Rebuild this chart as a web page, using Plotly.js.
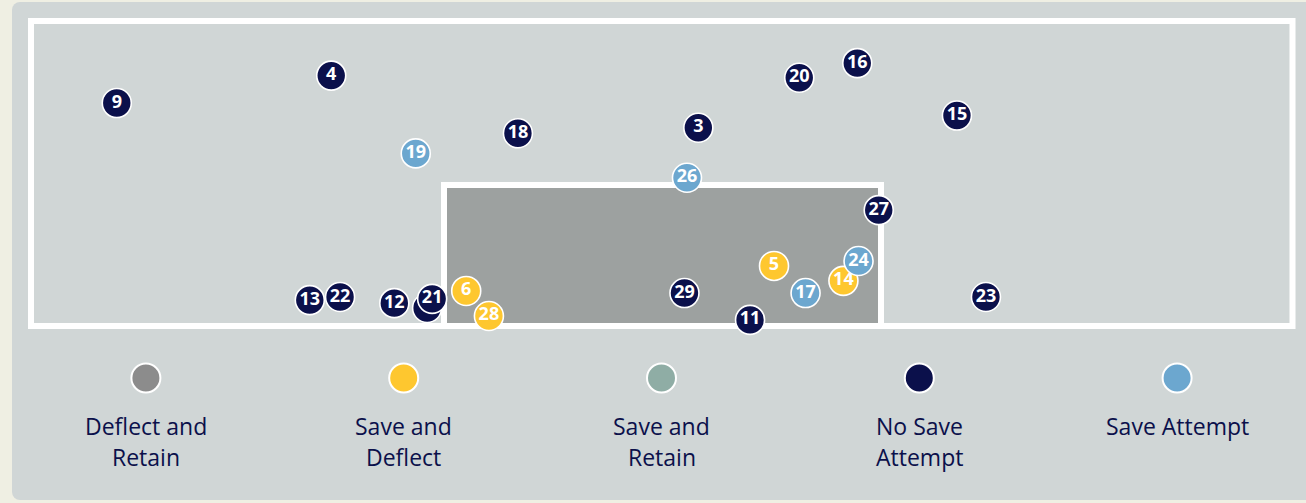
<!DOCTYPE html>
<html>
<head>
<meta charset="utf-8">
<script src="https://cdn.plot.ly/plotly-3.0.1.min.js"></script>
<style>
  html, body { margin: 0; padding: 0; background: #efefe3; overflow: hidden; }
  #card { position: absolute; left: 12px; top: 2px; width: 1310px; height: 498px;
          background: #d0d6d6; border-radius: 8px; }
  #shot_map { position: absolute; left: 0; top: 0; width: 1306px; height: 503px; }
</style>
</head>
<body>
<div id="card"></div>
<div id="shot_map"></div>
<script>
// shot positions in goal-frame units (0-100 across, 0 = goal line, 100 = top of frame)
const shotLabel   = ['9', '4', '18', '3', '20', '16', '15', '27', '29', '11', '23', '13', '22', '12', '', '21',
                     '5', '14', '6', '28',
                     '19', '26', '24', '17'];
const shotX       = [6.8, 23.8, 38.6, 52.9, 60.9, 65.5, 73.4, 67.2, 51.8, 57.0, 75.7, 22.1, 24.5, 28.8, 31.4, 31.8,
                     58.9, 64.4, 34.5, 36.3,
                     30.5, 52.0, 65.6, 61.4];
const shotY       = [73.1, 82.1, 63.2, 65.0, 81.4, 86.2, 69.0, 38.0, 10.8, 2.0, 9.5, 8.5, 9.5, 7.5, 5.9, 8.9,
                     19.7, 14.8, 11.5, 3.3,
                     56.6, 48.6, 21.3, 10.8];
const shotOutcome = ['No Save Attempt', 'No Save Attempt', 'No Save Attempt', 'No Save Attempt', 'No Save Attempt',
                     'No Save Attempt', 'No Save Attempt', 'No Save Attempt', 'No Save Attempt', 'No Save Attempt',
                     'No Save Attempt', 'No Save Attempt', 'No Save Attempt', 'No Save Attempt', 'No Save Attempt',
                     'No Save Attempt',
                     'Save and Deflect', 'Save and Deflect', 'Save and Deflect', 'Save and Deflect',
                     'Save Attempt', 'Save Attempt', 'Save Attempt', 'Save Attempt'];

// legend categories
const outcomeNames  = ['Deflect and Retain', 'Save and Deflect', 'Save and Retain', 'No Save Attempt', 'Save Attempt'];
const outcomeColors = ['#8c8c8c', '#fec72f', '#8fada5', '#0b104b', '#6ca7cf'];
const legendLine1   = ['Deflect and', 'Save and', 'Save and', 'No Save', 'Save Attempt'];
const legendLine2   = ['Retain', 'Deflect', 'Retain', 'Attempt', ''];
const legendY       = [0, 0, 0, 0, 0];

const navy = '#0b104b';
const drawOrder = ['No Save Attempt', 'Save and Deflect', 'Save Attempt'];

let data = drawOrder.map(function(outcome) {
  let idx = shotOutcome.map((o, i) => o == outcome ? i : -1).filter(i => i >= 0);
  return {
    x: idx.map(i => shotX[i]),
    y: idx.map(i => shotY[i]),
    text: idx.map(i => shotLabel[i]),
    type: 'scatter',
    mode: 'markers+text',
    name: outcome,
    textposition: 'middle center',
    textfont: {family: 'Open Sans', size: 18, color: '#ffffff', weight: 'bold'},
    marker: {size: 29, color: outcomeColors[outcomeNames.indexOf(outcome)],
             line: {color: '#ffffff', width: 1.6}},
    hoverinfo: 'none'
  };
});

// legend circles on their own category axis
data.push({
  x: outcomeNames,
  y: legendY,
  xaxis: 'x2',
  yaxis: 'y2',
  type: 'scatter',
  mode: 'markers',
  marker: {size: 29, color: outcomeColors, line: {color: '#ffffff', width: 2}},
  hoverinfo: 'none'
});

let annotations = [];
outcomeNames.forEach(function(name, i) {
  [legendLine1[i], legendLine2[i]].forEach(function(line, j) {
    if (!line) return;
    annotations.push({
      x: name, y: legendY[i], xref: 'x2', yref: 'y2',
      text: line, showarrow: false,
      yanchor: 'middle', yshift: -48 - j * 31,
      font: {family: 'Open Sans', size: 23, color: navy}
    });
  });
});

let layout = {
  width: 1306,
  height: 503,
  margin: {l: 0, r: 0, t: 0, b: 0},
  paper_bgcolor: 'rgba(0,0,0,0)',
  plot_bgcolor: 'rgba(0,0,0,0)',
  showlegend: false,
  xaxis: {range: [-2.457, 101.07], visible: false, fixedrange: true},
  yaxis: {range: [-58.03, 106.89], visible: false, fixedrange: true},
  xaxis2: {type: 'category', categoryarray: outcomeNames, range: [-0.5, 4.5],
           domain: [17 / 1306, 1], anchor: 'y2', visible: false, fixedrange: true},
  yaxis2: {range: [-125, 378], domain: [0, 1], anchor: 'x2', overlaying: 'y',
           visible: false, fixedrange: true},
  shapes: [
    // goal box
    {type: 'rect', xref: 'x', yref: 'y', x0: 32.74, x1: 67.38, y0: 0, y1: 46.2,
     fillcolor: '#9da1a0', line: {color: '#ffffff', width: 6}, layer: 'below'},
    // outer frame
    {type: 'rect', xref: 'x', yref: 'y', x0: 0, x1: 100, y0: 0, y1: 100,
     fillcolor: 'rgba(0,0,0,0)', line: {color: '#ffffff', width: 6}, layer: 'below'}
  ],
  annotations: annotations
};

Plotly.newPlot('shot_map', data, layout, {staticPlot: true, displayModeBar: false});
</script>
</body>
</html>
